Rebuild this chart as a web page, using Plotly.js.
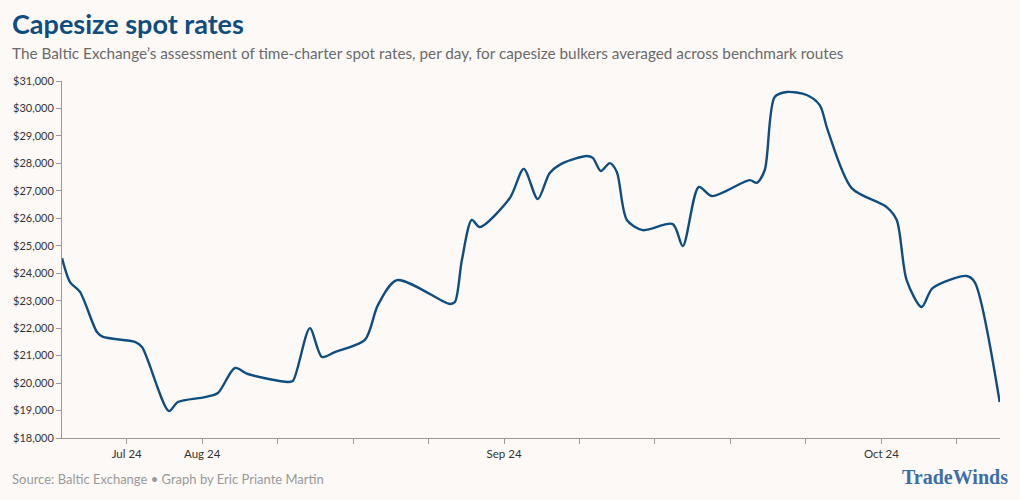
<!DOCTYPE html>
<html>
<head>
<meta charset="utf-8">
<script src="https://cdn.plot.ly/plotly-3.0.1.min.js"></script>
<style>
  html, body { margin: 0; padding: 0; background: #fdf9f7; }
  #chart { width: 1020px; height: 500px; }
</style>
</head>
<body>
<div id="chart"></div>
<script>
// Day offsets along the x axis (0 = left edge of the chart)
const days = [0, 0.74, 1.67, 3.24, 3.80, 6.77, 7.42, 9.92, 10.75, 13.26, 14.46, 16.04, 17.24, 20.95, 21.42,
  22.99, 24.11, 25.31, 28.09, 29.30, 31.06, 35.97, 36.44, 37.09, 38.01, 38.75, 41.54, 42.83, 44.13, 45.24,
  46.45, 48.67, 49.23, 49.97, 50.81, 51.46, 52.39, 53.87, 56.65, 57.58, 59.06, 60.27, 63.79, 64.44, 65.18,
  66.10, 67.22, 69.07, 70.28, 71.02, 73.24, 76.49, 77.42, 78.34, 79.73, 80.75, 83.90, 84.65, 86.97];
// Capesize spot rate, $ per day
const rates = [24550, 23680, 23320, 21860, 21680, 21500, 21310, 18980, 19310, 19490, 19640, 20550, 20330, 20040, 20080,
  22000, 20950, 21130, 21570, 22840, 23750, 22880, 22950, 24480, 25940, 25680, 26740, 27800, 26700, 27650,
  28010, 28270, 28200, 27720, 28010, 27690, 25940, 25570, 25790, 24990, 27140, 26810, 27390, 27290, 27760,
  30420, 30600, 30490, 30120, 29210, 27100, 26410, 25940, 23750, 22770, 23460, 23900, 23680, 19310];
// X tick positions and labels
const xTickVals = [6, 13, 20, 27, 34, 41, 48, 55, 62, 69, 76, 83];
const xTickText = ["Jul 24", "Aug 24", "", "", "", "Sep 24", "", "", "", "", "Oct 24", ""];
// Y ticks
const yTickVals = [18000, 19000, 20000, 21000, 22000, 23000, 24000, 25000, 26000, 27000, 28000, 29000, 30000, 31000];
const yTickText = ["$18,000", "$19,000", "$20,000", "$21,000", "$22,000", "$23,000", "$24,000", "$25,000",
  "$26,000", "$27,000", "$28,000", "$29,000", "$30,000", "$31,000"];

const title = "Capesize spot rates";
const subtitle = "The Baltic Exchange\u2019s assessment of time-charter spot rates, per day, for capesize bulkers averaged across benchmark routes";
const source = "Source: Baltic Exchange \u2022 Graph by Eric Priante Martin";
const logo = "TradeWinds";

const trace = {
  x: days, y: rates, type: 'scatter', mode: 'lines',
  line: { color: '#0f4d80', width: 2.4, shape: 'spline', smoothing: 0.8 },
  hoverinfo: 'skip'
};

const L = 62, W = 938, H = 357;
const px = p => (p - L) / W;
const py = p => (438 - p) / H;

const layout = {
  width: 1020, height: 500,
  margin: { l: 62, r: 20, t: 81, b: 62 },
  paper_bgcolor: '#fdf9f7', plot_bgcolor: '#fdf9f7',
  font: { family: 'Lato, sans-serif', color: '#333' },
  showlegend: false,
  xaxis: {
    range: [0, 87], tickmode: 'array', tickvals: xTickVals, ticktext: xTickText,
    showgrid: false, zeroline: false, showline: true, linecolor: '#999', linewidth: 1,
    ticks: 'outside', ticklen: 5, tickcolor: '#999', tickwidth: 1,
    tickfont: { size: 11.5, color: '#333', family: 'Lato, sans-serif' }, fixedrange: true
  },
  yaxis: {
    range: [18000, 31000], tickmode: 'array', tickvals: yTickVals, ticktext: yTickText,
    showgrid: false, zeroline: false, showline: true, linecolor: '#999', linewidth: 1,
    ticks: 'outside', ticklen: 5, tickcolor: '#999', tickwidth: 1,
    tickfont: { size: 11, color: '#333', family: 'Lato, sans-serif' }, fixedrange: true
  },
  annotations: [
    { text: '<b>' + title + '</b>', xref: 'paper', yref: 'paper', x: px(10), y: py(24), xanchor: 'left', yanchor: 'middle',
      showarrow: false, font: { size: 27, color: '#0d4d80', family: 'Lato, sans-serif' } },
    { text: subtitle, xref: 'paper', yref: 'paper', x: px(10), y: py(53), xanchor: 'left', yanchor: 'middle',
      showarrow: false, font: { size: 15.3, color: '#6a6a6a', family: 'Lato, sans-serif' } },
    { text: source, xref: 'paper', yref: 'paper', x: px(10), y: py(479), xanchor: 'left', yanchor: 'middle',
      showarrow: false, font: { size: 13, color: '#999', family: 'Lato, sans-serif' } },
    { text: '<b>' + logo + '</b>', xref: 'paper', yref: 'paper', x: px(1010), y: py(477), xanchor: 'right', yanchor: 'middle',
      showarrow: false, font: { size: 20, color: '#3b6ea8', family: '"Liberation Serif", serif' } }
  ]
};

Plotly.newPlot('chart', [trace], layout, { displayModeBar: false, staticPlot: true });
</script>
</body>
</html>
